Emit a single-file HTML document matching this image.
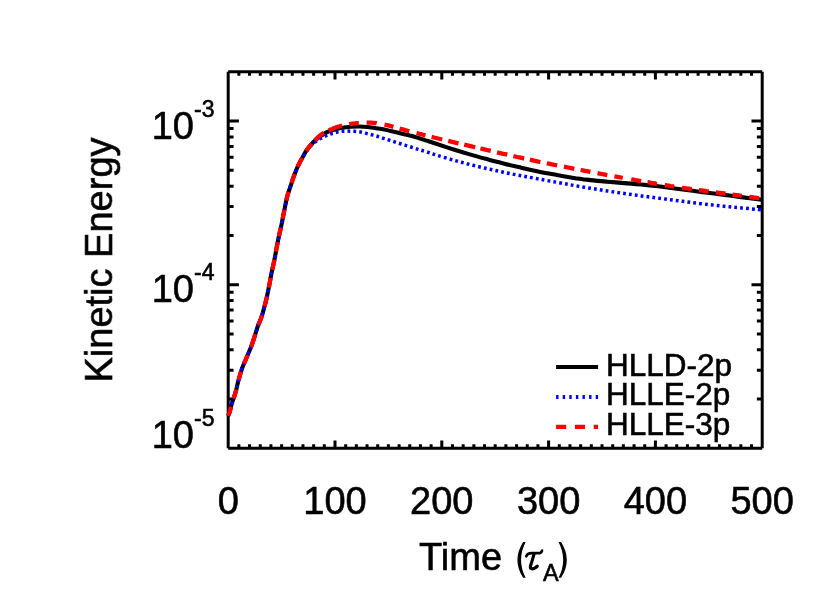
<!DOCTYPE html>
<html><head><meta charset="utf-8"><title>Kinetic Energy</title>
<style>
html,body{margin:0;padding:0;background:#fff;}
body{width:830px;height:593px;overflow:hidden;font-family:"Liberation Sans",sans-serif;}
svg{display:block;}
text{font-family:"Liberation Sans",sans-serif;fill:#000;}
</style></head><body>
<svg width="830" height="593" viewBox="0 0 830 593">
<rect width="830" height="593" fill="#fff"/>
<g fill="none" stroke="#000" stroke-width="3.0">
<path d="M228.2 71.8H762.2M228.2 448.3H762.2M228.2 71.8V448.3M762.2 71.8V448.3"/>
<path d="M238.88 448.30V444.30M238.88 71.80V75.80M249.56 448.30V444.30M249.56 71.80V75.80M260.24 448.30V444.30M260.24 71.80V75.80M270.92 448.30V444.30M270.92 71.80V75.80M281.60 448.30V444.30M281.60 71.80V75.80M292.28 448.30V444.30M292.28 71.80V75.80M302.96 448.30V444.30M302.96 71.80V75.80M313.64 448.30V444.30M313.64 71.80V75.80M324.32 448.30V444.30M324.32 71.80V75.80M335.00 448.30V440.60M335.00 71.80V79.50M345.68 448.30V444.30M345.68 71.80V75.80M356.36 448.30V444.30M356.36 71.80V75.80M367.04 448.30V444.30M367.04 71.80V75.80M377.72 448.30V444.30M377.72 71.80V75.80M388.40 448.30V444.30M388.40 71.80V75.80M399.08 448.30V444.30M399.08 71.80V75.80M409.76 448.30V444.30M409.76 71.80V75.80M420.44 448.30V444.30M420.44 71.80V75.80M431.12 448.30V444.30M431.12 71.80V75.80M441.80 448.30V440.60M441.80 71.80V79.50M452.48 448.30V444.30M452.48 71.80V75.80M463.16 448.30V444.30M463.16 71.80V75.80M473.84 448.30V444.30M473.84 71.80V75.80M484.52 448.30V444.30M484.52 71.80V75.80M495.20 448.30V444.30M495.20 71.80V75.80M505.88 448.30V444.30M505.88 71.80V75.80M516.56 448.30V444.30M516.56 71.80V75.80M527.24 448.30V444.30M527.24 71.80V75.80M537.92 448.30V444.30M537.92 71.80V75.80M548.60 448.30V440.60M548.60 71.80V79.50M559.28 448.30V444.30M559.28 71.80V75.80M569.96 448.30V444.30M569.96 71.80V75.80M580.64 448.30V444.30M580.64 71.80V75.80M591.32 448.30V444.30M591.32 71.80V75.80M602.00 448.30V444.30M602.00 71.80V75.80M612.68 448.30V444.30M612.68 71.80V75.80M623.36 448.30V444.30M623.36 71.80V75.80M634.04 448.30V444.30M634.04 71.80V75.80M644.72 448.30V444.30M644.72 71.80V75.80M655.40 448.30V440.60M655.40 71.80V79.50M666.08 448.30V444.30M666.08 71.80V75.80M676.76 448.30V444.30M676.76 71.80V75.80M687.44 448.30V444.30M687.44 71.80V75.80M698.12 448.30V444.30M698.12 71.80V75.80M708.80 448.30V444.30M708.80 71.80V75.80M719.48 448.30V444.30M719.48 71.80V75.80M730.16 448.30V444.30M730.16 71.80V75.80M740.84 448.30V444.30M740.84 71.80V75.80M751.52 448.30V444.30M751.52 71.80V75.80M228.20 399.04H233.55M762.20 399.04H756.85M228.20 370.23H233.55M762.20 370.23H756.85M228.20 349.79H233.55M762.20 349.79H756.85M228.20 333.93H233.55M762.20 333.93H756.85M228.20 320.98H233.55M762.20 320.98H756.85M228.20 310.02H233.55M762.20 310.02H756.85M228.20 300.53H233.55M762.20 300.53H756.85M228.20 292.16H233.55M762.20 292.16H756.85M228.20 284.68H238.90M762.20 284.68H751.50M228.20 235.42H233.55M762.20 235.42H756.85M228.20 206.61H233.55M762.20 206.61H756.85M228.20 186.17H233.55M762.20 186.17H756.85M228.20 170.31H233.55M762.20 170.31H756.85M228.20 157.35H233.55M762.20 157.35H756.85M228.20 146.40H233.55M762.20 146.40H756.85M228.20 136.91H233.55M762.20 136.91H756.85M228.20 128.54H233.55M762.20 128.54H756.85M228.20 121.06H238.90M762.20 121.06H751.50" stroke-width="3"/>
</g>
<g fill="none" stroke-linejoin="round">
<path d="M228.2 415.8C228.5 415.0 229.3 413.2 229.9 411.1C230.5 409.1 231.1 405.9 231.8 403.5C232.5 401.1 233.5 399.0 234.2 396.7C234.9 394.4 235.5 392.7 236.2 389.9C236.9 387.1 237.6 383.5 238.6 380.0C239.6 376.5 240.7 372.4 241.9 368.8C243.2 365.2 244.7 362.1 246.1 358.7C247.5 355.3 249.1 351.8 250.4 348.6C251.7 345.4 252.7 342.2 253.7 339.3C254.7 336.4 255.6 333.2 256.3 331.0C257.0 328.8 257.1 328.2 257.9 326.0C258.7 323.8 260.2 320.7 261.3 317.6C262.4 314.5 263.4 310.6 264.2 307.5C265.0 304.4 265.6 302.4 266.4 299.0C267.2 295.6 268.1 291.4 268.9 287.2C269.7 283.0 270.5 277.9 271.4 273.7C272.2 269.5 273.1 266.1 274.0 261.9C274.9 257.7 275.7 252.8 276.5 248.5C277.3 244.2 278.1 240.1 279.0 236.0C279.9 231.9 280.6 229.0 281.6 224.2C282.6 219.4 283.9 212.1 284.9 207.3C285.9 202.5 286.5 199.2 287.5 195.5C288.5 191.8 289.7 188.8 290.8 185.4C291.9 182.0 292.9 178.7 294.2 175.3C295.5 171.9 297.0 168.2 298.4 165.2C299.8 162.2 301.2 159.7 302.6 157.2C304.0 154.7 305.0 152.5 306.8 150.0C308.6 147.5 311.3 144.3 313.5 142.0C315.7 139.7 317.9 137.9 320.2 136.3C322.4 134.7 324.8 133.3 327.0 132.2C329.2 131.1 331.2 130.7 333.7 129.9C336.2 129.2 339.4 128.2 342.2 127.7C345.0 127.2 347.8 126.9 350.6 126.7C353.4 126.5 356.2 126.5 359.0 126.5C361.8 126.5 364.7 126.7 367.5 127.0C370.3 127.3 373.1 127.8 375.9 128.2C378.7 128.6 381.5 128.9 384.3 129.5C387.1 130.1 390.0 130.8 392.8 131.5C395.6 132.2 398.4 132.8 401.2 133.4C404.0 134.1 406.8 134.7 409.6 135.4C412.4 136.2 415.3 137.0 418.1 137.9C420.9 138.8 423.4 139.6 426.5 140.6C429.6 141.6 432.4 142.5 436.9 144.0C441.4 145.5 448.1 147.7 453.7 149.5C459.3 151.3 465.0 153.0 470.6 154.6C476.2 156.3 481.9 157.8 487.5 159.3C493.1 160.9 498.7 162.3 504.3 163.7C509.9 165.1 515.6 166.4 521.2 167.7C526.8 169.0 532.2 170.2 538.1 171.4C544.0 172.6 551.0 173.9 556.9 175.0C562.8 176.1 568.1 177.0 573.7 177.9C579.3 178.7 585.0 179.4 590.6 180.1C596.2 180.7 601.9 181.2 607.5 181.7C613.1 182.2 618.7 182.6 624.3 183.1C629.9 183.5 635.6 184.0 641.2 184.5C646.8 185.1 652.5 185.7 658.1 186.3C663.7 187.0 669.5 187.8 674.9 188.5C680.3 189.2 685.2 189.8 690.6 190.5C696.0 191.2 701.9 191.9 707.5 192.7C713.1 193.4 718.7 194.2 724.3 194.9C729.9 195.6 734.9 196.3 741.2 197.1C747.5 197.9 758.5 199.4 762.0 199.8" stroke="#000" stroke-width="4.1"/>
<path d="M228.2 415.8C228.5 415.0 229.3 413.2 229.9 411.1C230.5 409.1 231.1 405.9 231.8 403.5C232.5 401.1 233.5 399.0 234.2 396.7C234.9 394.4 235.5 392.7 236.2 389.9C236.9 387.1 237.6 383.5 238.6 380.0C239.6 376.5 240.7 372.4 241.9 368.8C243.2 365.2 244.7 362.1 246.1 358.7C247.5 355.3 249.1 351.8 250.4 348.6C251.7 345.4 252.7 342.2 253.7 339.3C254.7 336.4 255.6 333.2 256.3 331.0C257.0 328.8 257.1 328.2 257.9 326.0C258.7 323.8 260.2 320.7 261.3 317.6C262.4 314.5 263.4 310.6 264.2 307.5C265.0 304.4 265.6 302.4 266.4 299.0C267.2 295.6 268.1 291.4 268.9 287.2C269.7 283.0 270.5 277.9 271.4 273.7C272.2 269.5 273.1 266.1 274.0 261.9C274.9 257.7 275.7 252.8 276.5 248.5C277.3 244.2 278.1 240.1 279.0 236.0C279.9 231.9 280.6 229.0 281.6 224.2C282.6 219.4 283.9 212.1 284.9 207.3C285.9 202.5 286.5 199.2 287.5 195.5C288.5 191.8 289.7 188.8 290.8 185.4C291.9 182.0 292.9 178.7 294.2 175.3C295.5 171.9 297.0 168.2 298.4 165.2C299.8 162.2 300.7 160.3 302.6 157.2C304.5 154.1 307.6 149.3 310.0 146.6C312.4 143.8 314.3 142.5 316.9 140.7C319.4 138.9 322.5 137.3 325.3 136.0C328.1 134.7 330.9 133.8 333.7 133.0C336.5 132.2 339.4 131.6 342.2 131.3C345.0 131.0 347.8 131.1 350.6 131.2C353.4 131.3 356.2 131.3 359.0 131.7C361.8 132.1 364.7 133.0 367.5 133.7C370.3 134.4 373.1 135.0 375.9 135.8C378.7 136.6 381.5 137.7 384.3 138.6C387.1 139.5 390.0 140.4 392.8 141.3C395.6 142.2 398.4 143.1 401.2 144.0C404.0 144.9 406.8 145.7 409.6 146.6C412.4 147.5 415.3 148.4 418.1 149.3C420.9 150.2 423.4 150.8 426.5 151.8C429.6 152.8 432.4 153.8 436.9 155.2C441.4 156.6 448.1 158.6 453.7 160.2C459.3 161.7 465.0 163.3 470.6 164.7C476.2 166.1 481.9 167.5 487.5 168.7C493.1 170.0 498.7 171.2 504.3 172.4C509.9 173.6 515.6 174.7 521.2 175.7C526.8 176.8 532.2 177.8 538.1 178.9C544.0 180.0 551.0 181.2 556.9 182.3C562.8 183.4 568.1 184.4 573.7 185.4C579.3 186.4 585.0 187.4 590.6 188.3C596.2 189.2 601.9 190.2 607.5 191.0C613.1 191.9 618.7 192.7 624.3 193.5C629.9 194.3 635.6 195.1 641.2 195.9C646.8 196.6 652.5 197.3 658.1 198.1C663.7 198.8 669.5 199.6 674.9 200.3C680.3 201.0 685.2 201.7 690.6 202.4C696.0 203.1 701.9 203.8 707.5 204.4C713.1 205.1 718.7 205.7 724.3 206.3C729.9 206.9 734.9 207.3 741.2 207.9C747.5 208.5 758.5 209.5 762.0 209.8" stroke="#00f" stroke-width="3.5" stroke-dasharray="2.8 3.1"/>
<path d="M228.2 415.8L228.3 415.5L228.5 415.0L228.7 414.5L228.9 413.9L229.2 413.3L229.4 412.6L229.7 411.9L229.9 411.1L230.1 410.3L230.3 409.4L230.6 408.4L230.8 407.4L231.0 406.8M233.6 398.4L233.9 397.5L234.2 396.7L234.5 395.9L234.7 395.1L235.0 394.3L235.2 393.5L235.4 392.7L235.7 391.8L235.9 390.9L236.2 389.9L236.3 389.5M238.6 380.0L239.0 378.7L239.3 377.3L239.7 375.8L240.1 374.4L240.6 373.0L241.0 371.6L241.0 371.6M243.9 363.7L244.5 362.4L245.0 361.2L245.6 360.0L246.1 358.7L246.6 357.4L247.2 356.2L247.7 354.9L247.7 354.9M251.0 347.0L251.5 345.8L251.9 344.6L252.3 343.4L252.7 342.3L253.1 341.2L253.5 340.0L253.8 338.9L254.2 337.8L254.5 336.7L254.9 335.6L255.2 334.5L255.3 334.2M258.4 324.8L258.8 323.8L259.2 322.8L259.7 321.8L260.1 320.7L260.6 319.5L261.0 318.4L261.4 317.2L261.8 316.0L262.1 315.2M264.5 306.4L264.8 305.3L265.1 304.3L265.3 303.4L265.6 302.4L265.8 301.3L266.1 300.2L266.4 299.0L266.7 297.7L266.9 296.8M268.8 287.7L269.1 286.1L269.4 284.5L269.7 282.8L270.0 281.0L270.4 279.3L270.6 278.1M272.3 269.7L272.6 268.3L272.9 266.8L273.2 265.4L273.6 263.9L273.9 262.4L274.2 260.8L274.4 259.7M276.0 251.3L276.3 249.6L276.6 248.0L276.9 246.4L277.2 244.8L277.5 243.2L277.7 242.2M278.9 236.5L279.2 235.0L279.5 233.6L279.8 232.2L280.1 230.8L280.5 229.4L280.8 228.0L280.8 228.0M282.7 218.8L283.1 216.5L283.5 214.2L284.0 212.0L284.4 209.9L284.4 209.9M286.3 200.5L286.6 199.1L286.9 197.8L287.3 196.4L287.6 195.0L288.0 193.7L288.4 192.4L288.5 192.0M291.6 182.9L292.0 181.6L292.4 180.3L292.9 179.1L293.3 177.8L293.7 176.6L294.2 175.3L294.7 174.0L294.7 174.0M297.7 166.8L298.2 165.6L298.8 164.5L299.3 163.4L299.8 162.3L300.3 161.3L300.9 160.4L301.4 159.4L301.9 158.5L302.2 157.8M306.2 150.9L306.8 150.0L307.5 149.0L308.3 148.0L309.1 147.0L310.0 146.0L310.9 144.9L311.8 143.9L311.8 143.9M314.9 140.5L315.7 139.6L316.6 138.7L317.4 137.8L318.2 137.0L319.1 136.2L319.9 135.5L320.8 134.9L321.6 134.3L322.5 133.7L323.4 133.2L323.9 132.9M328.6 130.5L329.3 130.2L330.1 129.8L330.8 129.5L331.5 129.2L332.3 128.9L333.0 128.6L333.7 128.3L334.4 128.0L335.1 127.8L335.8 127.5L336.5 127.2L337.3 127.0L338.0 126.7L338.8 126.5L339.6 126.3L340.5 126.0L341.4 125.8L342.0 125.7M349.2 124.2L350.2 124.0L351.2 123.9L352.3 123.7L353.3 123.6L354.4 123.5L355.4 123.3L356.5 123.2L357.7 123.1L358.8 123.0L358.8 123.0M366.6 122.7L367.8 122.7L369.1 122.7L370.3 122.7L371.4 122.7L372.5 122.8L373.5 122.9L374.5 123.0L375.5 123.1L376.4 123.2L376.7 123.3M384.5 124.6L385.5 124.8L386.4 125.0L387.4 125.2L388.3 125.4L389.2 125.7L390.1 125.9L391.0 126.2L391.9 126.4L392.8 126.7L393.4 126.9M399.6 128.6L400.6 128.9L401.6 129.1L402.6 129.4L403.6 129.7L404.6 129.9L405.6 130.2L406.6 130.5L407.6 130.7L408.6 131.0L409.3 131.2M416.5 133.1L417.8 133.4L419.2 133.8L420.8 134.2L422.7 134.7L424.8 135.2L425.5 135.4M431.6 136.9L433.9 137.5L436.1 138.0L438.2 138.5L440.2 139.0L442.2 139.5L442.2 139.5M448.2 140.9L450.2 141.4L452.2 141.9L454.3 142.4L456.4 142.9L458.5 143.4L458.5 143.4M464.2 144.7L466.3 145.2L468.4 145.7L470.5 146.2L472.5 146.7L474.5 147.1L475.2 147.3M480.4 148.5L482.4 148.9L484.4 149.4L486.5 149.9L488.6 150.3L490.7 150.8L490.7 150.8M497.0 152.3L499.1 152.8L501.2 153.3L503.3 153.8L505.3 154.2L507.3 154.7L507.3 154.7M513.3 156.1L515.3 156.5L517.3 157.0L519.4 157.4L521.5 157.9L523.5 158.4L524.2 158.5M529.9 159.7L532.0 160.2L534.1 160.7L536.2 161.1L538.3 161.6L540.4 162.0L540.4 162.0M546.8 163.3L548.9 163.7L551.0 164.2L553.1 164.6L555.1 165.0L557.2 165.4L557.2 165.4M563.9 166.7L566.0 167.1L568.0 167.5L570.1 167.9L572.2 168.3L574.3 168.8L574.3 168.8M580.6 170.0L582.7 170.4L584.8 170.8L586.9 171.2L589.0 171.6L590.4 171.9M597.5 173.2L599.6 173.6L601.7 174.0L603.8 174.4L605.9 174.8L607.3 175.1M614.4 176.3L616.5 176.7L618.6 177.1L620.7 177.5L622.8 177.9L622.8 177.9M631.2 179.3L633.3 179.7L635.4 180.1L637.5 180.4L639.6 180.8L641.1 181.1M647.5 182.2L649.6 182.5L651.6 182.9L653.7 183.2L655.7 183.6L657.0 183.8M664.7 185.1L666.7 185.4L668.7 185.7L670.7 186.1L672.8 186.4L674.2 186.6M682.0 187.8L684.1 188.1L686.2 188.4L688.3 188.7L690.4 189.0L691.8 189.2M698.9 190.2L701.0 190.4L703.1 190.7L705.2 191.0L707.3 191.3L708.7 191.5M715.8 192.4L717.9 192.7L720.0 192.9L722.1 193.2L724.2 193.5L725.5 193.7M732.5 194.6L734.6 194.9L736.8 195.2L739.2 195.5L741.7 195.9L741.7 195.9M749.3 196.9L751.5 197.2L753.5 197.5L755.2 197.7L756.7 197.9L757.9 198.1L758.9 198.2L759.2 198.2" stroke="#f00" stroke-width="4.3"/>
</g>
<g fill="none">
<path d="M556.1 367H598.1" stroke="#000" stroke-width="4.2"/>
<path d="M556.1 397H598.1" stroke="#00f" stroke-width="3.8" stroke-dasharray="2.4 4.2"/>
<path d="M556.1 426.8H598.1" stroke="#f00" stroke-width="4.2" stroke-dasharray="10.1 8.7"/>
</g>
<g stroke="#000" stroke-width="0.6" style="opacity:0.999">
<text x="228.2" y="513.8" font-size="38" text-anchor="middle">0</text>
<text x="335.0" y="513.8" font-size="38" text-anchor="middle">100</text>
<text x="441.8" y="513.8" font-size="38" text-anchor="middle">200</text>
<text x="548.6" y="513.8" font-size="38" text-anchor="middle">300</text>
<text x="655.4" y="513.8" font-size="38" text-anchor="middle">400</text>
<text x="762.2" y="513.8" font-size="38" text-anchor="middle">500</text>
<text x="151.7" y="138.9" font-size="38">10</text>
<text x="194" y="116.7" font-size="23">-3</text>
<text x="151.7" y="302.3" font-size="38">10</text>
<text x="194" y="280.1" font-size="23">-4</text>
<text x="151.7" y="448.2" font-size="38">10</text>
<text x="194" y="426.0" font-size="23">-5</text>
<text transform="translate(112.1,260) rotate(-90)" font-size="38" text-anchor="middle">Kinetic Energy</text>
<text x="419" y="569.9" font-size="38">Time</text>
<text x="543" y="581.2" font-size="23.5">A</text>
<text x="606" y="375.9" font-size="31.5">HLLD-2p</text>
<text x="606" y="405.3" font-size="31.5">HLLE-2p</text>
<text x="606" y="434.6" font-size="31.5">HLLE-3p</text>
<g transform="translate(505 535) scale(0.08432)" stroke="none">
<path d="M215 82Q79 295 215 508L245 508Q135 295 245 82Z" fill="#000"/>
<path d="M665 82Q801 295 665 508L635 508Q745 295 635 82Z" fill="#000"/>
<path d="M252 254C262 224 285 215 315 215L412 215C426 215 434 202 440 184" fill="none" stroke="#000" stroke-width="30" stroke-linecap="round"/>
<path d="M345 220C335 272 312 330 302 370C296 400 320 408 345 396C360 389 372 381 383 369" fill="none" stroke="#000" stroke-width="38" stroke-linecap="round"/>
</g>
</g>
</svg>
</body></html>
